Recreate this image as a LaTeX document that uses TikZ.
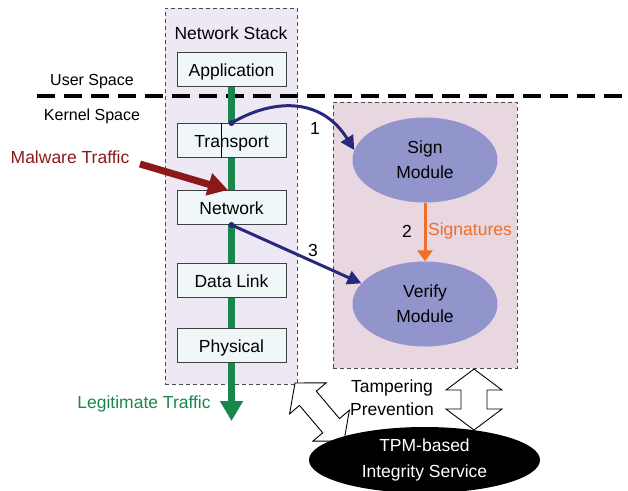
\documentclass[tikz,border=0pt]{standalone}
\usepackage{fontspec}
\setmainfont{Liberation Sans}
\usetikzlibrary{arrows.meta,shapes.geometric}
\definecolor{stackfill}{RGB}{238,232,244}
\definecolor{secfill}{RGB}{232,214,224}
\definecolor{boxfill}{RGB}{240,247,248}
\definecolor{modfill}{RGB}{146,148,204}
\definecolor{navyblue}{RGB}{40,40,125}
\definecolor{orangeline}{RGB}{240,110,40}
\definecolor{legitgreen}{RGB}{25,135,75}
\definecolor{malred}{RGB}{140,25,25}
\begin{document}
\begin{tikzpicture}[x=1pt,y=-1pt,
  txt/.style={font=\fontsize{17.5}{23}\selectfont, inner sep=0pt, align=center},
  smalltxt/.style={font=\fontsize{16}{20}\selectfont, inner sep=0pt, anchor=base},
  layer/.style={draw=black!75, line width=0.9pt, fill=boxfill, minimum width=109pt,
    minimum height=34pt, inner sep=0pt, text height=14.5pt, text depth=0pt,
    font=\fontsize{17.5}{21}\selectfont},
  module/.style={ellipse, fill=modfill, minimum width=145pt, minimum height=85pt,
    inner sep=0pt, align=center, font=\fontsize{17.5}{25}\selectfont},
  region/.style={draw=black!70, line width=0.8pt, dash pattern=on 4pt off 3pt, inner sep=0pt},
  bluearrow/.style={draw=navyblue, line width=3pt, -{Triangle[length=14pt,width=14pt]}},
  thickarrow/.style={line width=7pt, -{Triangle[length=20pt,width=22pt]}},
  blockarrow/.style={draw=black, line width=0.9pt, fill=white, line join=miter},
]
\useasboundingbox (0,0) rectangle (628,490);

% regions
\node[region, fill=stackfill, minimum width=132pt, minimum height=376pt] (stack) at (231,196) {};
\node[region, fill=secfill, minimum width=184pt, minimum height=266pt] (secbox) at (425,235) {};

% user / kernel split
\coordinate (uka) at (37,96);
\coordinate (ukb) at (628,96);
\draw[line width=3.5pt, dash pattern=on 18pt off 9pt] (uka) -- (ukb);
\node[smalltxt] (user) at (92,85) {User Space};
\node[smalltxt] (kernel) at (92,120.5) {Kernel Space};

\node[txt] (stacklabel) at (231,33) {Network Stack};

% legitimate traffic line
\coordinate (appbottom) at (231.5,86);
\coordinate (legitend) at (231.5,421);
\draw[legitgreen, thickarrow] (appbottom) -- (legitend);

% layers
\node[layer] (app) at (231.5,69) {Application};
\node[layer] (trans) at (231.5,140.5) {Transport};
\node[layer] (net) at (231.5,207.5) {Network};
\node[layer] (dl) at (231.5,280) {Data Link};
\node[layer] (phys) at (231.5,345.5) {Physical};
\draw[line width=0.6pt] ([xshift=-10.5pt]trans.north) -- ([xshift=-10.5pt]trans.south);

\node[txt, text=legitgreen] (legit) at (144,404) {Legitimate Traffic};

% malware
\coordinate (mwstart) at (140,164);
\coordinate (mwend) at (228,190);
\draw[malred, thickarrow] (mwstart) -- (mwend);
\node[txt, text=malred] (malware) at (70,157) {Malware Traffic};

% modules
\node[module] (sign) at (425,160) {Sign\\Module};
\node[module] (verify) at (425,304) {Verify\\Module};

\draw[orangeline, line width=3pt, -{Triangle[length=11pt,width=15pt]}] (sign.south) -- (verify.north);
\node[txt] (two) at (407,231) {2};
\node[txt, text=orangeline] (sigs) at (470,231) {Signatures};

% blue arrows
\draw[bluearrow] (trans.north) .. controls (270,100) and (320,95) .. (sign.172);
\draw[bluearrow] (net.south) -- (verify.162);
\fill[navyblue] (trans.north) circle (3pt);
\fill[navyblue] (net.south) circle (3pt);
\node[txt] (one) at (315,128) {1};
\node[txt] (three) at (313,250) {3};

% block arrows
\draw[blockarrow] (295,383) -- (326.2,382.8) -- (316.3,391.2) -- (339.5,418.6) -- (349.4,410.2)
  -- (344,441) -- (312.8,441.2) -- (322.7,432.8) -- (299.5,405.4) -- (289.6,413.8) -- cycle;
\draw[blockarrow] (474,369) -- (502,390) -- (487,390) -- (487,409) -- (502,409) -- (474,430)
  -- (446,409) -- (461,409) -- (461,390) -- (446,390) -- cycle;

\node[txt] (tamper) at (392,398) {Tampering\\Prevention};

% TPM
\node[ellipse, fill=black, text=white, minimum width=231pt, minimum height=66pt, inner sep=0pt,
  align=center, font=\fontsize{17.5}{26}\selectfont] (tpm) at (424.5,460) {TPM-based\\Integrity Service};
\end{tikzpicture}
\end{document}
